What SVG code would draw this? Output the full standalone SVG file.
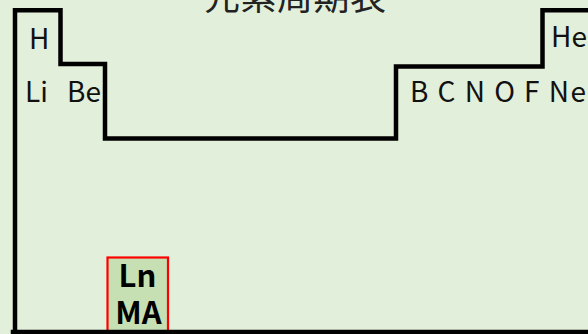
<svg xmlns="http://www.w3.org/2000/svg" width="588" height="334" viewBox="0 0 588 334">
  <style>
    .outline { fill: none; stroke: #000; stroke-width: 4.5; stroke-linejoin: miter; stroke-linecap: square; }
    .el { font-family: "Noto Sans CJK JP", "Noto Sans", "Liberation Sans", sans-serif; font-size: 28px; fill: #111; }
    .title { font-family: "Noto Sans CJK JP", "Noto Sans CJK SC", sans-serif; font-size: 36px; fill: #222; }
    .ln { font-family: "Noto Sans CJK JP", "Liberation Sans", sans-serif; font-size: 31px; font-weight: bold; fill: #000; text-anchor: middle; }
  </style>
  <rect x="0" y="0" width="588" height="334" fill="#e2efda"/>
  <text class="title" x="204" y="10" textLength="182" lengthAdjust="spacing">元素周期表</text>
  <g id="highlight">
    <rect x="107.5" y="257.5" width="60.5" height="80" fill="#c6e0b4" stroke="#ff0000" stroke-width="2.2"/>
    <text class="ln" x="137.5" y="287">Ln</text>
    <text class="ln" x="138.5" y="324">MA</text>
  </g>
  <g id="table-outline">
    <path class="outline" d="M15,336 V10.3 H60.5 V64 H105 V138.5 H396 V66.5 H542.5 V10.3 H592"/>
    <path class="outline" d="M13,332 H592"/>
  </g>
  <g id="labels">
    <text class="el" x="29" y="48.5">H</text>
    <text class="el" x="25" y="101.7">Li</text>
    <text class="el" x="67" y="101.7">Be</text>
    <text class="el" x="551" y="46.7">He</text>
    <text class="el" x="410" y="101.7" textLength="176" lengthAdjust="spacing">B C N O F Ne</text>
  </g>
</svg>
